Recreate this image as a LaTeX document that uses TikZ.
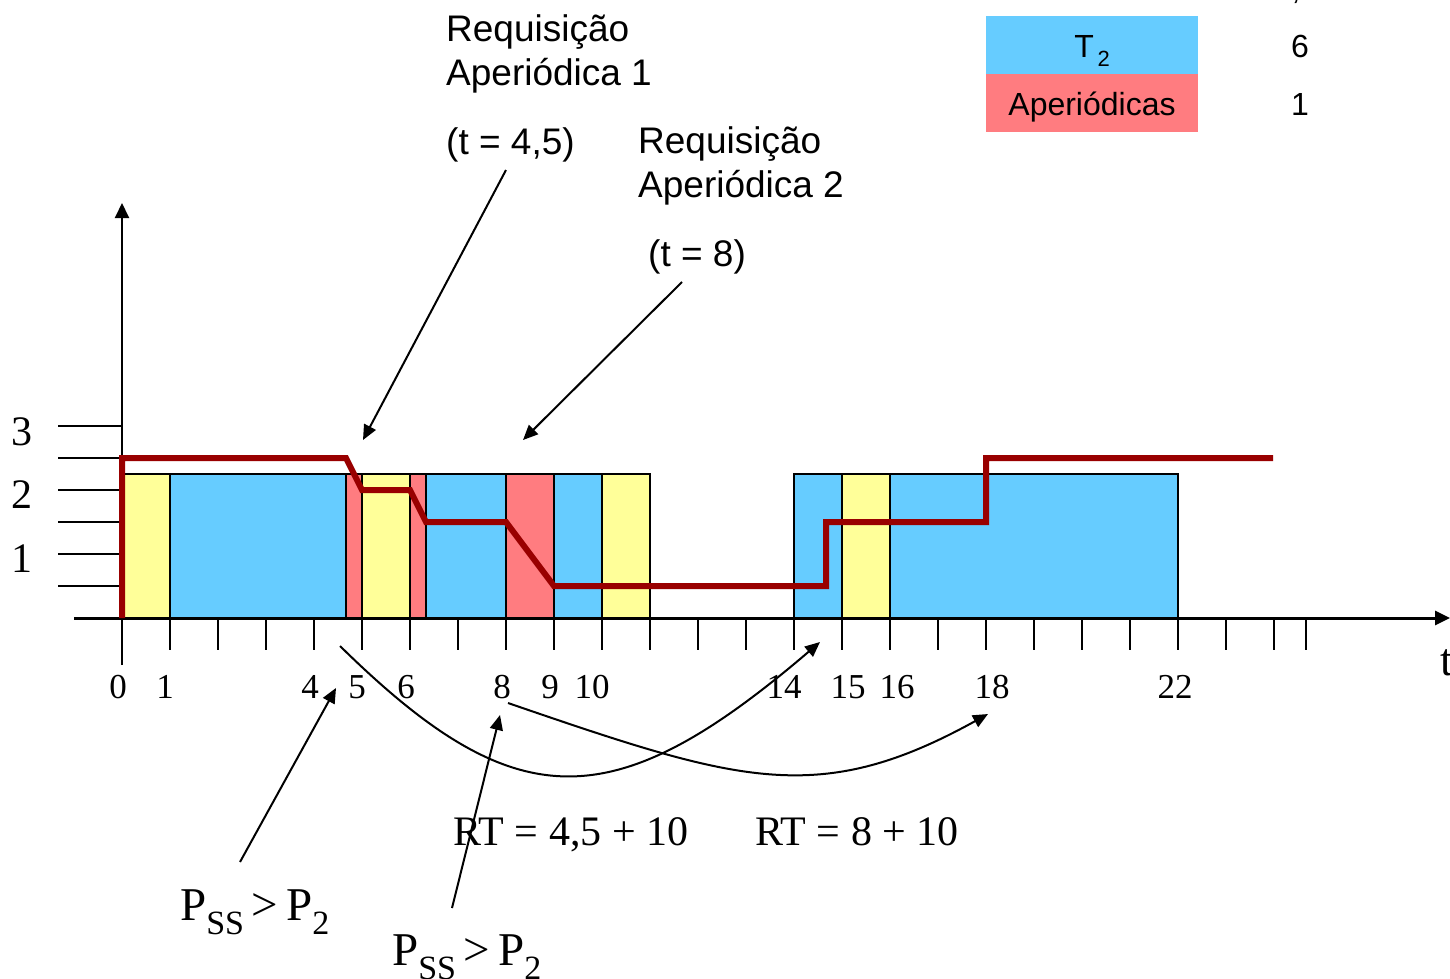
\documentclass[tikz,border=0pt]{standalone}
\usepackage{fontspec}
\setmainfont{Liberation Serif}
\newfontfamily\arial{Liberation Sans}
\usetikzlibrary{arrows.meta}
\definecolor{yelc}{HTML}{FFFF99}
\definecolor{bluc}{HTML}{66CCFF}
\definecolor{pnkc}{HTML}{FF7C80}
\definecolor{budc}{HTML}{990000}
\tikzset{
  bar/.style={draw=black, line width=2pt},
  yel/.style={bar, fill=yelc},
  blu/.style={bar, fill=bluc},
  pnk/.style={bar, fill=pnkc},
  axisline/.style={line width=3pt},
  tickline/.style={line width=2pt},
  budget/.style={draw=budc, line width=6pt, line join=miter},
  arr/.style={line width=2pt, -{Triangle[length=15pt,width=13pt]}},
  tlbl/.style={font=\fontsize{35}{35}\selectfont, inner sep=0pt},
  ylbl/.style={font=\fontsize{42}{42}\selectfont, inner sep=0pt},
  stxt/.style={font=\arial\fontsize{37}{44}\selectfont, inner sep=0pt, anchor=base west},
  ltxt/.style={font=\arial\fontsize{32}{36}\selectfont, inner sep=0pt, anchor=base},
  rtxt/.style={font=\fontsize{42}{42}\selectfont, inner sep=0pt, anchor=base west},
  ptxt/.style={font=\fontsize{47}{47}\selectfont, inner sep=0pt, anchor=base west},
}
\newcommand{\pss}{P\raisebox{-0.3em}{\fontsize{34}{34}\selectfont SS}\,{>}\,P\raisebox{-0.3em}{\fontsize{34}{34}\selectfont 2}}
\begin{document}
\begin{tikzpicture}[x=1pt,y=-1pt]
\useasboundingbox (0,0) rectangle (1450,978);

% bars
\draw[yel] (122,474) rectangle (170,618);
\draw[blu] (170,474) rectangle (346,618);
\draw[pnk] (346,474) rectangle (362,618);
\draw[yel] (362,474) rectangle (410,618);
\draw[pnk] (410,474) rectangle (426,618);
\draw[blu] (426,474) rectangle (506,618);
\draw[pnk] (506,474) rectangle (554,618);
\draw[blu] (554,474) rectangle (602,618);
\draw[yel] (602,474) rectangle (650,618);
\draw[blu] (794,474) rectangle (842,618);
\draw[yel] (842,474) rectangle (890,618);
\draw[blu] (890,474) rectangle (1178,618);

% axes
\coordinate (xo) at (74,618);
\coordinate (xe) at (1450,618);
\coordinate (yo) at (122,665);
\coordinate (ye) at (122,203);
\draw[axisline, -{Triangle[length=15pt,width=14pt]}] (xo) -- (xe);
\draw[tickline, -{Triangle[length=15pt,width=14pt]}] (yo) -- (ye);
\foreach \i in {1,...,24} \draw[tickline] (122+48*\i,618) -- (122+48*\i,650);
\draw[tickline] (1306,618) -- (1306,650);
\foreach \yy in {426,458,490,522,554,586} \draw[tickline] (58,\yy) -- (122,\yy);

% y labels
\node[ylbl] (y3) at (22,432) {3};
\node[ylbl] (y2) at (22,495) {2};
\node[ylbl] (y1) at (22,559) {1};

% tick labels
\foreach \lx/\lt in {118/0,165/1,310/4,357/5,406/6,502/8,550/9,592/10,784/14,848/15,897/16,992/18,1175/22}
  \node[tlbl] (tl\lt) at (\lx,687) {\lt};
\node[font=\fontsize{46}{46}\selectfont, inner sep=0pt] (tlab) at (1447,663) {t};

% budget line
\draw[budget] (122,618) -- (122,458) -- (346,458) -- (362,490) -- (410,490) -- (426,522)
  -- (506,522) -- (554,586) -- (826,586) -- (826,522) -- (986,522) -- (986,458) -- (1273,458);

% top texts
\node[stxt] (r1a) at (446,41) {Requisição};
\node[stxt] (r1b) at (446,85) {Aperiódica 1};
\node[stxt] (r1c) at (446,154) {(t = 4,5)};
\node[stxt] (r2a) at (638,153) {Requisição};
\node[stxt] (r2b) at (638,197) {Aperiódica 2};
\node[stxt] (r2c) at (648,266) {(t = 8)};
\coordinate (a1s) at (506,170);
\coordinate (a1e) at (363,440);
\coordinate (a2s) at (682,282);
\coordinate (a2e) at (523,440);
\draw[arr] (a1s) -- (a1e);
\draw[arr] (a2s) -- (a2e);

% legend
\node[fill=bluc, minimum width=212pt, minimum height=58pt, inner sep=0pt] (lgT) at (1092,45) {};
\node[fill=pnkc, minimum width=212pt, minimum height=58pt, inner sep=0pt] (lgA) at (1092,103) {};
\node[ltxt] (lgTt) at (1092,57) {T\raisebox{-0.3em}{\fontsize{22}{22}\selectfont\,2}};
\node[ltxt] (lgAt) at (1092,115) {Aperiódicas};
\node[ltxt] (lg6) at (1300,57) {6};
\node[ltxt] (lg1) at (1300,115) {1};
\node[ltxt] (lgc) at (1296,-1) {,};

% bottom curves
\coordinate (c1s) at (340,646);
\coordinate (c1e) at (820,642);
\coordinate (c2s) at (508,703);
\coordinate (c2e) at (988,714);
\draw[arr] (c1s) .. controls (515,818) and (612,820) .. (c1e);
\draw[arr] (c2s) .. controls (738,782) and (818,808) .. (c2e);

% bottom labels
\node[rtxt] (rt1) at (453,845) {RT = 4,5 + 10};
\node[rtxt] (rt2) at (755,845) {RT = 8 + 10};
\node[ptxt] (p1) at (180,920) {\pss};
\node[ptxt] (p2) at (392,965) {\pss};
\coordinate (pa1s) at (240,862);
\coordinate (pa1e) at (336,688);
\coordinate (pa2s) at (452,908);
\coordinate (pa2e) at (500,715);
\draw[arr] (pa1s) -- (pa1e);
\draw[arr] (pa2s) -- (pa2e);
\end{tikzpicture}
\end{document}
